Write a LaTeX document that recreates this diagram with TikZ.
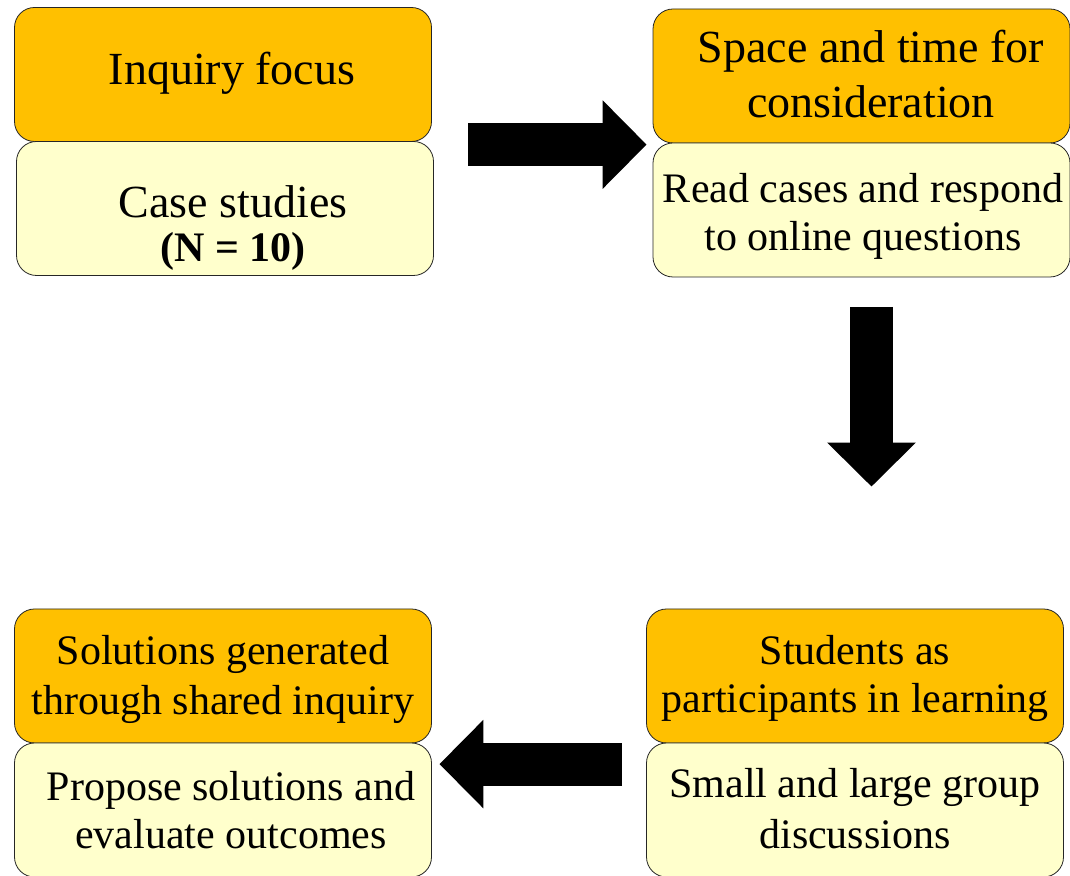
\documentclass[tikz,border=0pt]{standalone}
\usepackage{fontspec}
\setmainfont{Liberation Serif}
\usetikzlibrary{arrows.meta}

\definecolor{amber}{HTML}{FFC000}
\definecolor{cream}{HTML}{FFFFCC}

\tikzset{
  titlebox/.style={draw=black!85, line width=0.8pt, fill=amber, rounded corners=20pt,
    minimum width=417pt, minimum height=134pt, inner sep=0pt},
  notebox/.style={titlebox, fill=cream},
  bigtxt/.style={font=\fontsize{46}{55}\selectfont, align=center, anchor=base, inner sep=0pt},
  smalltxt/.style={font=\fontsize{42}{48}\selectfont, align=center, anchor=base, inner sep=0pt},
  blockarrow/.style={line width=43pt, -{Triangle[length=44pt,width=86pt]}},
}

\begin{document}
\begin{tikzpicture}[x=1pt,y=1pt]
\useasboundingbox (0,0) rectangle (1070,875);
\clip (0,0) rectangle (1070,875);

% top left (text placed at the baseline of its last line)
\node[titlebox] (focus) at (223,800.5) {};
\node[notebox] (cases) at (225,666.5) {};
\node[bigtxt] (focus-t) at (232,790) {Inquiry focus};
\node[bigtxt] (cases-t) at (233,613) {Case studies\\[-11pt]{\fontsize{42}{48}\selectfont\bfseries (N = 10)}};

% top right
\node[titlebox] (space) at (861.5,799) {};
\node[notebox] (reading) at (861.5,665) {};
\node[bigtxt] (space-t) at (871,757) {Space and time for\\consideration};
\node[smalltxt] (reading-t) at (863,624) {Read cases and respond\\to online questions};

% bottom right
\node[titlebox] (students) at (855,199) {};
\node[notebox] (groups) at (855,65) {};
\node[smalltxt] (students-t) at (855,162) {Students as\\participants in learning};
\node[smalltxt] (groups-t) at (855,27) {Small and large group\\[3pt]discussions};

% bottom left
\node[titlebox] (solutions) at (223,199) {};
\node[notebox] (outcomes) at (223,65) {};
\node[smalltxt] (solutions-t) at (223,160) {Solutions generated\\[2pt]through shared inquiry};
\node[smalltxt] (outcomes-t) at (231,27) {Propose solutions and\\evaluate outcomes};

% flow between the steps
\draw[blockarrow] ([xshift=34.5pt,yshift=-3.5pt]cases.north east) -- ([xshift=-6pt,yshift=-2pt]reading.north west);
\draw[blockarrow] ([xshift=10pt,yshift=-29.5pt]reading.south) -- ([xshift=16.5pt,yshift=122pt]students.north);
\draw[blockarrow] ([xshift=-24pt,yshift=-21.5pt]groups.north west) -- ([xshift=7.5pt,yshift=-21.5pt]outcomes.north east);

\end{tikzpicture}
\end{document}
